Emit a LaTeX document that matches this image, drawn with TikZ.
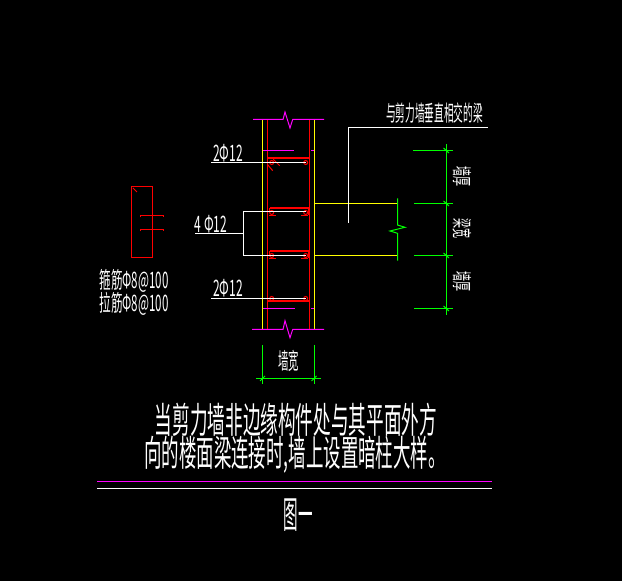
\documentclass[tikz,border=0pt]{standalone}
\usepackage{fontspec}
\usepackage{graphicx}
\newfontfamily\cadfont{Noto Sans CJK SC}
\definecolor{cadgreen}{RGB}{0,255,0}
\definecolor{cadpink}{RGB}{255,0,255}
\definecolor{cadyellow}{RGB}{255,255,0}
\definecolor{cadred}{RGB}{255,0,0}
\tikzset{
  wall/.style={cadyellow},
  rebar/.style={cadred},
  tie/.style={cadred, line width=1.5pt},
  breakline/.style={cadpink},
  dimline/.style={cadgreen},
  leader/.style={white},
  cadlabel/.style={white, inner sep=0pt, font=\cadfont},
}
% squeezed CAD lettering: width factor, size, text
\newcommand{\cadtext}[3]{\scalebox{#1}[1]{\fontsize{#2}{#2}\selectfont #3}}
\begin{document}
\begin{tikzpicture}[x=.75pt, y=-.75pt, line width=.75pt]
  \useasboundingbox[fill=black] (0,0) rectangle (622,581);
  % wall
  \draw[wall] (262.5,119) -- (262.5,329);
  \draw[wall] (314.5,119) -- (314.5,329);
  \draw[rebar] (267.5,119) -- (267.5,330);
  \draw[rebar] (309.5,119) -- (309.5,330);
  \draw[breakline] (253,119.5) -- (283,119.5) -- (285,112) -- (290,128) -- (292.7,119.5) -- (324,119.5);
  \draw[breakline] (252,329.5) -- (283,329.5) -- (285,320.7) -- (290,337.7) -- (292.7,329.5) -- (324,329.5);
  \draw[breakline] (262.7,150.5) -- (294,150.5);
  \draw[breakline] (311,150.5) -- (314,150.5);
  \draw[breakline] (262.7,308.5) -- (295,308.5);
  \draw[breakline] (311,308.5) -- (314,308.5);
  % stirrups
  \draw[tie] (267,158.5) -- (309.5,158.5);
  \draw[tie] (269.5,208.5) -- (308.5,208.5);
  \draw[tie] (269.5,251) -- (308.5,251);
  \draw[tie] (267,301.5) -- (309.5,301.5);
  \foreach \ypos in {162.5,212.5,255.5,298.5} {
    \draw[rebar] (271.7,\ypos) circle (2);
    \draw[rebar] (305.7,\ypos) circle (2);
  }
  \foreach \ypos in {215.5,258.5} {
    \draw[rebar] (269,\ypos) -- (276,\ypos);
    \draw[rebar] (301,\ypos) -- (308,\ypos);
    \draw[rebar] (269.5,\ypos-7) -- (269.5,\ypos-3);
    \draw[rebar] (308.5,\ypos-7) -- (308.5,\ypos);
  }
  \draw[rebar] (273.3,159.3) -- (279.7,165.7);
  \draw[rebar] (267.3,164.3) -- (272.7,170.7);
  % beam
  \coordinate (beamtop) at (397.5,203.5);
  \coordinate (beambot) at (397.5,255.5);
  \draw[wall] (314,203.5) -- (beamtop);
  \draw[wall] (314,255.5) -- (beambot);
  \draw[dimline] (397.5,198.3) -- (397.5,225) -- (405,227.3) -- (390,231) -- (397.5,233.3) -- (397.5,260.7);
  % leaders
  \draw[leader] (211,162.5) -- (305.7,162.5);
  \draw[leader] (211,298.5) -- (305.7,298.5);
  \draw[leader] (305.7,211.5) -- (243.5,211.5) -- (243.5,255.5) -- (305.7,255.5);
  \draw[leader] (195,233.5) -- (243.5,233.5);
  \draw[leader] (348.5,222.7) -- (348.5,127.5) -- (487.7,127.5);
  % dimensions right
  \draw[dimline] (446.5,144.3) -- (446.5,315);
  \foreach \ypos/\xstart in {150.5/413,203.5/414,255.5/414,308.5/414} {
    \draw[dimline] (\xstart,\ypos) -- (452.5,\ypos);
    \draw[dimline] (443.5,\ypos-2.5) -- (449,\ypos+2.5);
  }
  % dimensions below
  \draw[dimline] (262.5,345) -- (262.5,384);
  \draw[dimline] (314.5,345) -- (314.5,384);
  \draw[dimline] (256,378.5) -- (321,378.5);
  \draw[dimline] (260,381) -- (265,376);
  \draw[dimline] (311.5,381) -- (316.5,376);
  % section
  \draw[rebar] (131.5,186.5) rectangle (152.5,257.5);
  \draw[rebar] (133,188) -- (137,192);
  \foreach \ypos in {215.5,229.5} {
    \draw[rebar] (140.5,\ypos+2) -- (140.5,\ypos) -- (163.5,\ypos) -- (163.5,\ypos+2);
  }
  % rules
  \draw[breakline] (97,481.5) -- (492,481.5);
  \draw[leader] (97,488.5) -- (492,488.5);
  % labels
  \node[cadlabel] (beamnote) at (434.5,113) {\cadtext{.44}{16.5pt}{与剪力墙垂直相交的梁}};
  \node[cadlabel] (topbar) at (228,153) {\cadtext{.53}{17pt}{2Φ12}};
  \node[cadlabel] (midbar) at (211,224) {\cadtext{.53}{17pt}{4 Φ12}};
  \node[cadlabel] (botbar) at (228,288) {\cadtext{.53}{17pt}{2Φ12}};
  \node[cadlabel] (stirlabel) at (134,281) {\cadtext{.51}{17pt}{箍筋Φ8@100}};
  \node[cadlabel] (tielabel) at (134,304) {\cadtext{.51}{17pt}{拉筋Φ8@100}};
  \node[cadlabel, rotate=-90] (thicktop) at (462,177) {\cadtext{.5}{15pt}{墙厚}};
  \node[cadlabel, rotate=-90] (beamwide) at (462,229) {\cadtext{.5}{15pt}{梁宽}};
  \node[cadlabel, rotate=-90] (thickbot) at (462,282) {\cadtext{.5}{15pt}{墙厚}};
  \node[cadlabel] (wallwide) at (288.5,361) {\cadtext{.46}{17pt}{墙宽}};
  \node[cadlabel] (line1) at (296,420) {\cadtext{.49}{27pt}{当剪力墙非边缘构件处与其平面外方}};
  \node[cadlabel] (line2) at (295,455) {\cadtext{.485}{27pt}{向的楼面梁连接时,墙上设置暗柱大样。}};
  \node[cadlabel] (figname) at (298.5,515) {\cadtext{.39}{28pt}{图一}};
\end{tikzpicture}
\end{document}
